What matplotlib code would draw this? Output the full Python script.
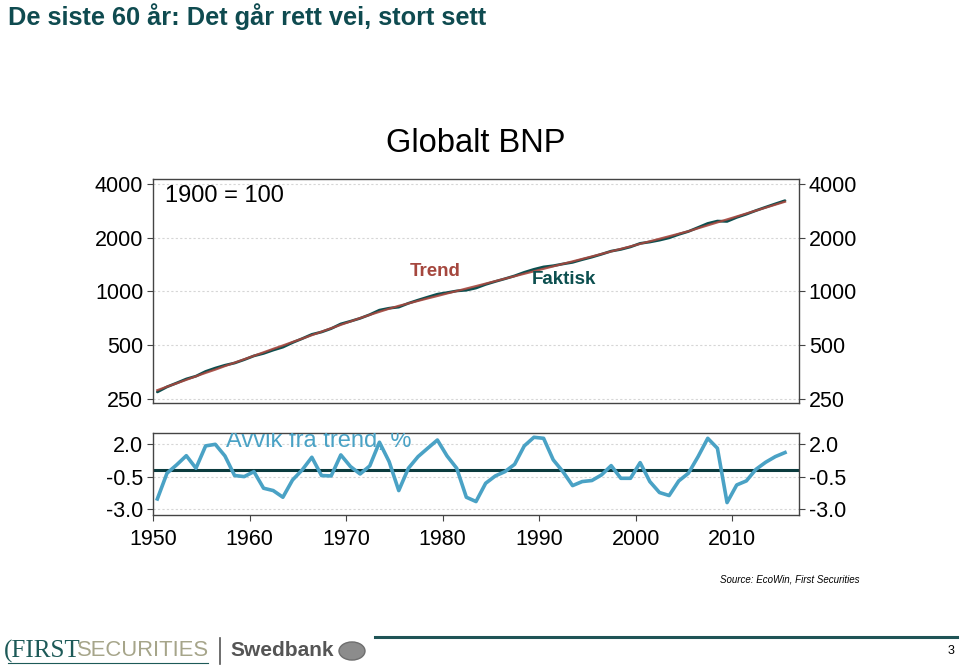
import matplotlib
matplotlib.use('Agg')
import matplotlib.pyplot as plt
from matplotlib.patches import Circle
from matplotlib.lines import Line2D

plt.rcParams['font.family'] = ['Liberation Sans', 'DejaVu Sans']

# Data (1900 = 100)
years = list(range(1950, 2016))
trend = [279, 292, 305, 319, 334, 349, 364, 381, 398, 416,
         435, 455, 476, 497, 520, 543, 568, 594, 621, 649,
         678, 708, 738, 768, 799, 829, 856, 884, 913, 942,
         973, 1004, 1037, 1070, 1105, 1141, 1178, 1216, 1255, 1296,
         1338, 1381, 1426, 1472, 1520, 1569, 1621, 1675, 1730, 1787,
         1847, 1908, 1971, 2036, 2104, 2173, 2258, 2346, 2437, 2531,
         2629, 2732, 2838, 2948, 3063, 3182]
# deviation from trend, %
avvik = [-2.21, -0.24, 0.40, 1.10, 0.14, 1.85, 1.97, 1.08, -0.42, -0.50,
         -0.12, -1.39, -1.57, -2.08, -0.76, 0.01, 0.98, -0.42, -0.45, 1.16,
         0.27, -0.30, 0.32, 2.13, 0.65, -1.57, 0.14, 1.03, 1.67, 2.30,
         1.08, 0.14, -2.08, -2.41, -1.01, -0.45, -0.12, 0.44, 1.85, 2.51,
         2.43, 0.78, -0.12, -1.19, -0.88, -0.80, -0.37, 0.34, -0.63, -0.63,
         0.57, -0.88, -1.72, -1.95, -0.83, -0.24, 1.03, 2.43, 1.67, -2.49,
         -1.14, -0.83, 0.06, 0.60, 1.03, 1.34]
faktisk = [t * (1 + a / 100) for t, a in zip(trend, avvik)]

top_ticks = [250, 500, 1000, 2000, 4000]
dev_ticks = [2.0, -0.5, -3.0]
dev_labels = ['2.0', '-0.5', '-3.0']
x_ticks = [1950, 1960, 1970, 1980, 1990, 2000, 2010]

W, H = 960, 667
def fx(x):
    return x / W
def fy(y):
    return 1 - y / H

teal = '#0f4b50'
red = '#a5473e'
blue = '#4aa2c5'
spine_c = '#444444'

fig = plt.figure(figsize=(9.6, 6.67), dpi=100)

# x positions: mid-year
xs = [y + 0.45 for y in years]

ax1 = fig.add_axes([fx(153), fy(403.3), fx(646), (403.3 - 179.3) / H])
ax2 = fig.add_axes([fx(153), fy(515), fx(646), (515 - 432.7) / H])

for ax in (ax1, ax2):
    for s in ax.spines.values():
        s.set_color(spine_c)
        s.set_linewidth(1.0)
    ax.set_xlim(1950, 2016.9)
    ax.tick_params(axis='both', labelsize=15.5, colors='black', length=4,
                   width=0.8, pad=3, direction='out')
    ax.tick_params(axis='y', left=True, right=True, labelleft=True, labelright=True,
                   color=spine_c)
    ax.grid(axis='y', color='#d6d6d6', linestyle=(0, (2, 2)), linewidth=0.8)
    ax.set_axisbelow(True)

# top panel
ax1.plot(xs, faktisk, color='#0c4f4f', lw=2.0, solid_capstyle='round')
ax1.plot(xs, trend, color=red, lw=1.6, alpha=0.9)
ax1.set_yscale('log', base=2)
ax1.set_ylim(235.6, 4250)
ax1.set_yticks(top_ticks)
ax1.set_yticklabels([str(t) for t in top_ticks])
ax1.minorticks_off()
ax1.tick_params(axis='x', bottom=False, labelbottom=False)

# bottom panel
ax2.axhline(0, color='#0b3b3e', lw=2.2)
ax2.plot(xs, avvik, color=blue, lw=2.6)
ax2.set_ylim(-3.44, 2.86)
ax2.set_yticks(dev_ticks)
ax2.set_yticklabels(dev_labels)
ax2.set_xticks(x_ticks)
ax2.set_xticklabels([str(x) for x in x_ticks])
ax2.tick_params(axis='x', color=spine_c, pad=6)
ax2.text(1957.6, 1.77, 'Avvik fra trend, %', color=blue, fontsize=17,
         va='baseline', ha='left', clip_on=True)

# texts
fig.text(fx(8), fy(17), 'De siste 60 år: Det går rett vei, stort sett', color=teal,
         fontsize=18.3, fontweight='bold', va='center', ha='left')
fig.text(fx(476), fy(143), 'Globalt BNP', fontsize=23.5, ha='center', va='center')
fig.text(fx(165), fy(196), '1900 = 100', fontsize=17, ha='left', va='center')
fig.text(fx(435), fy(272), 'Trend', color=red, fontsize=13.5, fontweight='bold',
         ha='center', va='center')
fig.text(fx(564), fy(279), 'Faktisk', color='#0c4f4f', fontsize=13.5, fontweight='bold',
         ha='center', va='center')
fig.text(fx(860), fy(580), 'Source: EcoWin, First Securities', fontsize=7,
         style='italic', ha='right', va='center')

# footer
fig.text(fx(4), fy(651), '(FIRST', family=['Liberation Serif'], color='#1d5a58',
         fontsize=18, ha='left', va='center')
fig.text(fx(77), fy(651), 'SECURITIES', color='#a6a58a', fontsize=15.8,
         ha='left', va='center')
fig.add_artist(Line2D([fx(8), fx(208)], [fy(663), fy(663)], color='#1d5a58', lw=0.8))
fig.add_artist(Line2D([fx(220), fx(220)], [fy(638), fy(664)], color='#555555', lw=1.2))
fig.text(fx(230), fy(651), 'Swedbank', color='#555555', fontsize=15, fontweight='bold',
         ha='left', va='center')
fig.add_artist(Circle((fx(352), fy(651)), 13 / W, transform=fig.transFigure,
                      facecolor='#8c8c8c', edgecolor='#6e6e6e', lw=1))
fig.add_artist(Line2D([fx(375), fx(957)], [fy(637), fy(637)], color='#1f5456', lw=2.2))
fig.text(fx(951), fy(651), '3', fontsize=9, ha='center', va='center')

fig.savefig('out.png', dpi=100)
